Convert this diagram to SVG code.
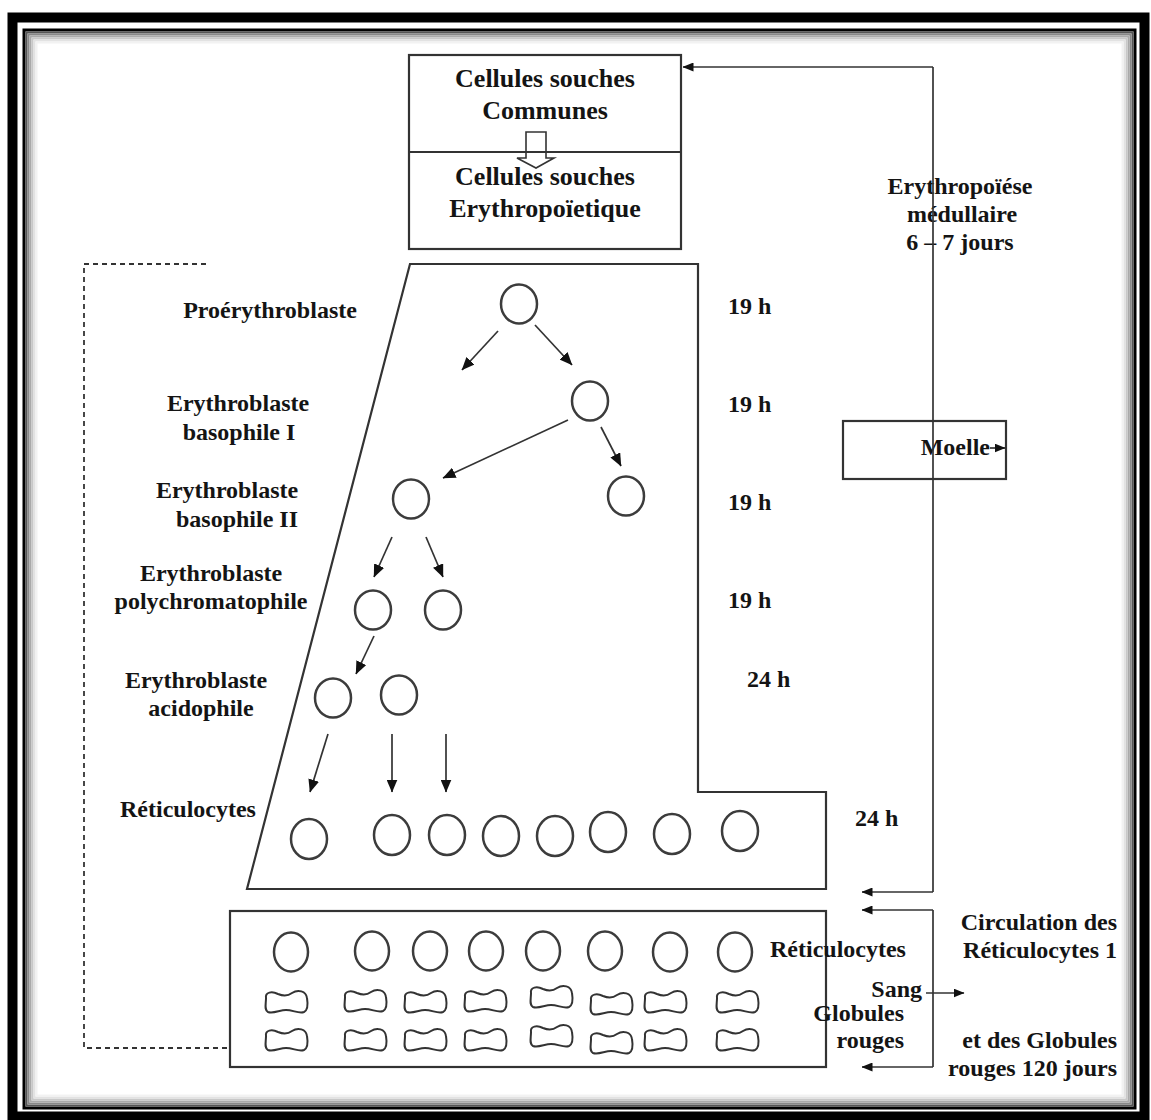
<svg xmlns="http://www.w3.org/2000/svg" xmlns:xlink="http://www.w3.org/1999/xlink" width="1151" height="1120" viewBox="0 0 1151 1120">
<style>
.t{font-family:"Liberation Serif","Times New Roman",serif;font-weight:bold;font-size:24px;fill:#141414}
.tb{font-size:26px}
.m{text-anchor:middle}
.e{text-anchor:end}
.c{fill:none;stroke:#3c3c3c;stroke-width:2.5}
.box{fill:none;stroke:#333;stroke-width:2.2}
.ln{fill:none;stroke:#333;stroke-width:1.7}
.a{marker-end:url(#ah)}
.a2{marker-end:url(#ah2)}
.rbc{fill:none;stroke:#333;stroke-width:2}
.dash{fill:none;stroke:#333;stroke-width:1.8;stroke-dasharray:5 4}
</style>
<defs>
<marker id="ah" markerUnits="userSpaceOnUse" markerWidth="13" markerHeight="11" viewBox="0 0 13 11" refX="12.5" refY="5.5" orient="auto"><path d="M0,0 L13,5.5 L0,11 z" fill="#111"/></marker>
<marker id="ah2" markerUnits="userSpaceOnUse" markerWidth="11" markerHeight="9" viewBox="0 0 11 9" refX="10.5" refY="4.5" orient="auto"><path d="M0,0 L11,4.5 L0,9 z" fill="#111"/></marker>
<path id="rbc" class="rbc" d="M-20,-4 C-21,-10 -14,-11 -8,-8 C-3,-6 2,-6 6,-9 C12,-13 20,-11 21,-4 C22,2 22,8 18,10 C13,12 7,8 0,8 C-6,8 -13,12 -18,10 C-22,8 -20,2 -20,-4 Z"/>
</defs>
<rect width="1151" height="1120" fill="#fff"/>
<g id="frame">
<rect x="12.5" y="17.5" width="1132" height="1099" fill="none" stroke="#000" stroke-width="10"/>
<rect x="24" y="30" width="1111" height="1078" fill="none" stroke="#000" stroke-width="3"/>
<rect x="26.5" y="32.5" width="1106" height="1073" fill="none" stroke="#555" stroke-width="2"/>
<rect x="28.5" y="34.5" width="1102" height="1069" fill="none" stroke="#888" stroke-width="2"/>
<rect x="30.5" y="36.5" width="1098" height="1065" fill="none" stroke="#aaa" stroke-width="2"/>
<rect x="32.5" y="38.5" width="1094" height="1061" fill="none" stroke="#c8c8c8" stroke-width="2"/>
<rect x="34.5" y="40.5" width="1090" height="1057" fill="none" stroke="#e2e2e2" stroke-width="2"/>
<rect x="36.5" y="42.5" width="1086" height="1053" fill="none" stroke="#f2f2f2" stroke-width="2"/>
</g>
<g id="stem-cells">
<rect class="box" x="409" y="55" width="272" height="194"/>
<polygon points="526,132 546,132 546,158 554,158 536,168 517,158 526,158" fill="#fff" stroke="#333" stroke-width="1.6"/>
<line class="box" x1="409" y1="152" x2="681" y2="152"/>
<text class="t tb m" x="545" y="87">Cellules souches</text>
<text class="t tb m" x="545" y="119">Communes</text>
<text class="t tb m" x="545" y="185">Cellules souches</text>
<text class="t tb m" x="545" y="217">Erythropoïetique</text>
</g>
<g id="marrow">
<polygon class="box" points="410,264 698,264 698,792 826,792 826,889 247,889"/>
</g>
<g id="blood">
<rect class="box" x="230" y="911" width="596" height="156"/>
</g>
<g id="moelle">
<rect class="box" x="843" y="421" width="163" height="58"/>
<text class="t e" x="990" y="455">Moelle</text>
</g>
<g id="cells-tree">
<ellipse class="c" cx="519" cy="304" rx="18" ry="19.5"/>
<ellipse class="c" cx="590" cy="401" rx="18" ry="19.5"/>
<ellipse class="c" cx="411" cy="499" rx="18" ry="19.5"/>
<ellipse class="c" cx="626" cy="496" rx="18" ry="19.5"/>
<ellipse class="c" cx="373" cy="610" rx="18" ry="19.5"/>
<ellipse class="c" cx="443" cy="610" rx="18" ry="19.5"/>
<ellipse class="c" cx="333" cy="698" rx="18" ry="19.5"/>
<ellipse class="c" cx="399" cy="695" rx="18" ry="19.5"/>
</g>
<g id="reticulocytes-marrow">
<ellipse class="c" cx="309" cy="839" rx="18" ry="20"/>
<ellipse class="c" cx="392" cy="835" rx="18" ry="20"/>
<ellipse class="c" cx="447" cy="835" rx="18" ry="20"/>
<ellipse class="c" cx="501" cy="836" rx="18" ry="20"/>
<ellipse class="c" cx="555" cy="836" rx="18" ry="20"/>
<ellipse class="c" cx="608" cy="832" rx="18" ry="20"/>
<ellipse class="c" cx="672" cy="834" rx="18" ry="20"/>
<ellipse class="c" cx="740" cy="831" rx="18" ry="20"/>
</g>
<g id="reticulocytes-blood">
<ellipse class="c" cx="291" cy="952" rx="17" ry="19.5"/>
<ellipse class="c" cx="372" cy="951" rx="17" ry="19.5"/>
<ellipse class="c" cx="430" cy="951" rx="17" ry="19.5"/>
<ellipse class="c" cx="486" cy="951" rx="17" ry="19.5"/>
<ellipse class="c" cx="543" cy="951" rx="17" ry="19.5"/>
<ellipse class="c" cx="605" cy="951" rx="17" ry="19.5"/>
<ellipse class="c" cx="670" cy="952" rx="17" ry="19.5"/>
<ellipse class="c" cx="735" cy="952" rx="17" ry="19.5"/>
</g>
<g id="red-cells">
<use xlink:href="#rbc" x="286" y="1002"/>
<use xlink:href="#rbc" x="365" y="1001"/>
<use xlink:href="#rbc" x="425" y="1002"/>
<use xlink:href="#rbc" x="485" y="1001"/>
<use xlink:href="#rbc" x="551" y="997"/>
<use xlink:href="#rbc" x="611" y="1004"/>
<use xlink:href="#rbc" x="665" y="1002"/>
<use xlink:href="#rbc" x="737" y="1002"/>
<use xlink:href="#rbc" x="286" y="1040"/>
<use xlink:href="#rbc" x="365" y="1040"/>
<use xlink:href="#rbc" x="425" y="1040"/>
<use xlink:href="#rbc" x="485" y="1040"/>
<use xlink:href="#rbc" x="551" y="1036"/>
<use xlink:href="#rbc" x="611" y="1043"/>
<use xlink:href="#rbc" x="665" y="1040"/>
<use xlink:href="#rbc" x="737" y="1040"/>
</g>
<g id="labels">
<text class="t m" x="270" y="318">Proérythroblaste</text>
<text class="t m" x="238" y="411">Erythroblaste</text>
<text class="t m" x="239" y="440">basophile I</text>
<text class="t m" x="227" y="498">Erythroblaste</text>
<text class="t m" x="237" y="527">basophile II</text>
<text class="t m" x="211" y="581">Erythroblaste</text>
<text class="t m" x="211" y="609">polychromatophile</text>
<text class="t m" x="196" y="688">Erythroblaste</text>
<text class="t m" x="201" y="716">acidophile</text>
<text class="t" x="120" y="817">Réticulocytes</text>
<text class="t" x="728" y="314">19 h</text>
<text class="t" x="728" y="412">19 h</text>
<text class="t" x="728" y="510">19 h</text>
<text class="t" x="728" y="608">19 h</text>
<text class="t" x="747" y="687">24 h</text>
<text class="t" x="855" y="826">24 h</text>
<text class="t m" x="960" y="194">Erythropoïése</text>
<text class="t m" x="962" y="222">médullaire</text>
<text class="t m" x="960" y="250">6 – 7 jours</text>
<text class="t" x="770" y="957">Réticulocytes</text>
<text class="t e" x="922" y="997">Sang</text>
<text class="t e" x="904" y="1021">Globules</text>
<text class="t e" x="904" y="1048">rouges</text>
<text class="t e" x="1117" y="930">Circulation des</text>
<text class="t e" x="1117" y="958">Réticulocytes 1</text>
<text class="t e" x="1117" y="1048">et des Globules</text>
<text class="t e" x="1117" y="1076">rouges 120 jours</text>
</g>
<g id="connectors">
<line class="ln a" x1="498" y1="331" x2="462" y2="370"/>
<line class="ln a" x1="535" y1="325" x2="572" y2="365"/>
<line class="ln a" x1="568" y1="420" x2="443" y2="478"/>
<line class="ln a" x1="601" y1="427" x2="621" y2="466"/>
<line class="ln a" x1="392" y1="537" x2="374" y2="577"/>
<line class="ln a" x1="426" y1="537" x2="443" y2="577"/>
<line class="ln a" x1="374" y1="636" x2="356" y2="674"/>
<line class="ln a" x1="328" y1="734" x2="310" y2="792"/>
<line class="ln a" x1="392" y1="734" x2="392" y2="792"/>
<line class="ln a" x1="446" y1="734" x2="446" y2="792"/>
<line class="ln" x1="933" y1="67" x2="933" y2="892"/>
<line class="ln a2" x1="933" y1="67" x2="683" y2="67"/>
<line class="ln a2" x1="933" y1="892" x2="862" y2="892"/>
<line class="ln" x1="933" y1="910" x2="933" y2="1067"/>
<line class="ln a2" x1="933" y1="910" x2="862" y2="910"/>
<line class="ln a2" x1="933" y1="1067" x2="862" y2="1067"/>
<line class="ln a2" x1="926" y1="993" x2="964" y2="993"/>
<line class="ln a2" x1="990" y1="448" x2="1005" y2="448"/>
<path class="dash" d="M206,264 H84 V1048 H230"/>
</g>
</svg>
